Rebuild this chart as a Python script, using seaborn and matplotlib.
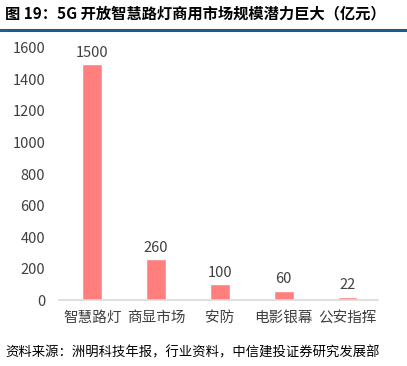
import matplotlib
matplotlib.use("Agg")
import matplotlib.pyplot as plt
import seaborn as sns
import pandas as pd
from matplotlib.lines import Line2D

categories = ["智慧路灯", "商显市场", "安防", "电影银幕", "公安指挥"]
values = [1500, 260, 100, 60, 22]
yticks = [0, 200, 400, 600, 800, 1000, 1200, 1400, 1600]
title = "图 19：5G 开放智慧路灯商用市场规模潜力巨大（亿元）"
source = "资料来源：洲明科技年报，行业资料，中信建投证券研究发展部"

sns.set_theme(style="white")
plt.rcParams['font.family'] = ['Noto Sans CJK SC', 'DejaVu Sans']

df = pd.DataFrame({"cat": categories, "val": values})

fig = plt.figure(figsize=(4.07, 3.66), dpi=100)
ax = fig.add_axes([0.145, 0.180, 0.784, 0.689])
sns.barplot(data=df, x="cat", y="val", color="#FF7F7F", saturation=1, width=0.31, ax=ax)

ax.set_ylim(0, 1600)
ax.set_yticks(yticks)
ax.set_yticklabels([str(t) for t in yticks], fontsize=10.5, color="#404040")
ax.set_xlabel("")
ax.set_ylabel("")
ax.tick_params(axis="x", labelsize=10.5, colors="#404040", length=0, pad=8)
ax.tick_params(axis="y", length=0, pad=10)
for s in ["top", "right", "left"]:
    ax.spines[s].set_visible(False)
ax.spines["bottom"].set_color("#D9D9D9")
ax.spines["bottom"].set_linewidth(1.2)
ax.set_xlim(-0.52, 4.48)

for c in ax.containers:
    ax.bar_label(c, labels=[str(v) for v in values], padding=3, fontsize=10.5, color="#404040")

fig.text(0.012, 0.962, title, fontsize=11, fontweight="bold", color="#000000", va="center", ha="left")
fig.add_artist(Line2D([0, 1], [0.917, 0.917], transform=fig.transFigure, color="#1F5C8C", linewidth=2.2))
fig.text(0.012, 0.038, source, fontsize=9.6, color="#000000", va="center", ha="left", style="italic")

fig.savefig("out.png", dpi=100)
